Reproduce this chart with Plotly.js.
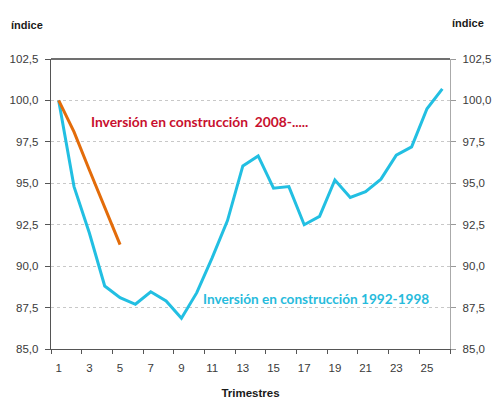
<!DOCTYPE html>
<html>
<head>
<meta charset="utf-8">
<script src="https://cdn.plot.ly/plotly-3.0.1.min.js"></script>
<style>html,body{margin:0;padding:0;background:#fff}#chart{width:500px;height:413px}</style>
</head>
<body>
<div id="chart"></div>
<script>
// Trimestres (quarters)
var trimestres = [1,2,3,4,5,6,7,8,9,10,11,12,13,14,15,16,17,18,19,20,21,22,23,24,25,26];
// Inversión en construcción 1992-1998 (índice)
var serie1992 = [100, 94.8, 92.0, 88.8, 88.1, 87.7, 88.45, 87.9, 86.85, 88.4, 90.5, 92.75, 96.05, 96.65, 94.7, 94.8, 92.5, 93.0, 95.2, 94.15, 94.5, 95.25, 96.7, 97.2, 99.5, 100.7];
// Inversión en construcción 2008-..... (índice)
var trimestres2008 = [1,2,3,4,5];
var serie2008 = [100, 98.1, 95.8, 93.5, 91.3];
// Tick values / labels
var xTickVals = [1,3,5,7,9,11,13,15,17,19,21,23,25];
var xTickMarks = [0.5,2.5,4.5,6.5,8.5,10.5,12.5,14.5,16.5,18.5,20.5,22.5,24.5,26.5];
var yTickVals = [85, 87.5, 90, 92.5, 95, 97.5, 100, 102.5];
var etiquetaSerie1992 = 'Inversión en construcción 1992-1998';
var etiquetaSerie2008 = 'Inversión en construcción  2008-.....';

var colBlue = '#22BFE2';
var colOrange = '#E36C0A';

var traces = [
  {x: trimestres, y: serie1992, type: 'scatter', mode: 'lines', name: etiquetaSerie1992,
   line: {color: colBlue, width: 3}, xaxis: 'x', yaxis: 'y'},
  {x: trimestres2008, y: serie2008, type: 'scatter', mode: 'lines', name: etiquetaSerie2008,
   line: {color: colOrange, width: 3}, xaxis: 'x', yaxis: 'y'},
  {x: [trimestres[0]], y: [serie1992[0]], type: 'scatter', mode: 'none', showlegend: false,
   hoverinfo: 'skip', xaxis: 'x', yaxis: 'y2'}
];

var tickFont = {family: '"Liberation Sans", Arial, sans-serif', size: 11.5, color: '#3a3a3a'};

var layout = {
  width: 500, height: 413,
  margin: {l: 51, r: 49.5, t: 59, b: 64},
  paper_bgcolor: '#fff', plot_bgcolor: '#fff',
  separators: ',.',
  showlegend: false,
  xaxis: {
    range: [0.5, 26.5], tickmode: 'array', tickvals: xTickVals,
    ticks: '', showgrid: false, zeroline: false,
    showline: true, linecolor: '#555', linewidth: 1.3,
    tickfont: tickFont, ticklabelstandoff: 8,
    minor: {tickmode: 'array', tickvals: xTickMarks, ticks: 'outside', ticklen: 4, tickcolor: '#555', tickwidth: 1, showgrid: false},
    title: {text: 'Trimestres', font: {family: '"Liberation Sans", Arial, sans-serif', size: 11.5, color: '#1a1a1a', weight: 'bold'}, standoff: 16}
  },
  yaxis: {
    range: [85, 102.5], tickmode: 'array', tickvals: yTickVals, tickformat: '.1f',
    ticks: 'outside', ticklen: 5, tickcolor: '#555', tickwidth: 1,
    showline: true, linecolor: '#555', linewidth: 1.3, zeroline: false,
    showgrid: true, gridcolor: '#c8c8c8', griddash: 'dot', gridwidth: 1,
    tickfont: tickFont, ticklabelstandoff: 4
  },
  yaxis2: {
    range: [85, 102.5], tickmode: 'array', tickvals: yTickVals, tickformat: '.1f',
    overlaying: 'y', side: 'right',
    ticks: 'outside', ticklen: 5, tickcolor: '#999', tickwidth: 1,
    showline: true, linecolor: '#aaa', linewidth: 1.3, zeroline: false,
    showgrid: false, tickfont: tickFont, ticklabelstandoff: 4
  },
  shapes: [
    {type: 'line', xref: 'paper', yref: 'paper', x0: 0, x1: 1, y0: 1, y1: 1,
     line: {color: '#404040', width: 1.3}}
  ],
  annotations: [
    {text: 'índice', xref: 'paper', yref: 'paper', x: -0.105, y: 1.118, xanchor: 'left', yanchor: 'middle',
     showarrow: false, font: {family: '"Liberation Sans", Arial, sans-serif', size: 11, color: '#1a1a1a', weight: 'bold'}},
    {text: 'índice', xref: 'paper', yref: 'paper', x: 1.0, y: 1.125, xanchor: 'left', yanchor: 'middle',
     showarrow: false, font: {family: '"Liberation Sans", Arial, sans-serif', size: 11, color: '#1a1a1a', weight: 'bold'}},
    {text: etiquetaSerie2008, xref: 'paper', yref: 'paper', x: 0.095, y: 0.784, xanchor: 'left', yanchor: 'middle',
     showarrow: false, font: {family: 'Lato, sans-serif', size: 13.8, color: '#C8102E', weight: 'bold'}},
    {text: etiquetaSerie1992, xref: 'paper', yref: 'paper', x: 0.376, y: 0.171, xanchor: 'left', yanchor: 'middle',
     showarrow: false, font: {family: 'Lato, sans-serif', size: 13.6, color: '#27BBDC', weight: 'bold'}}
  ]
};

Plotly.newPlot('chart', traces, layout, {staticPlot: true, displayModeBar: false});
</script>
</body>
</html>
